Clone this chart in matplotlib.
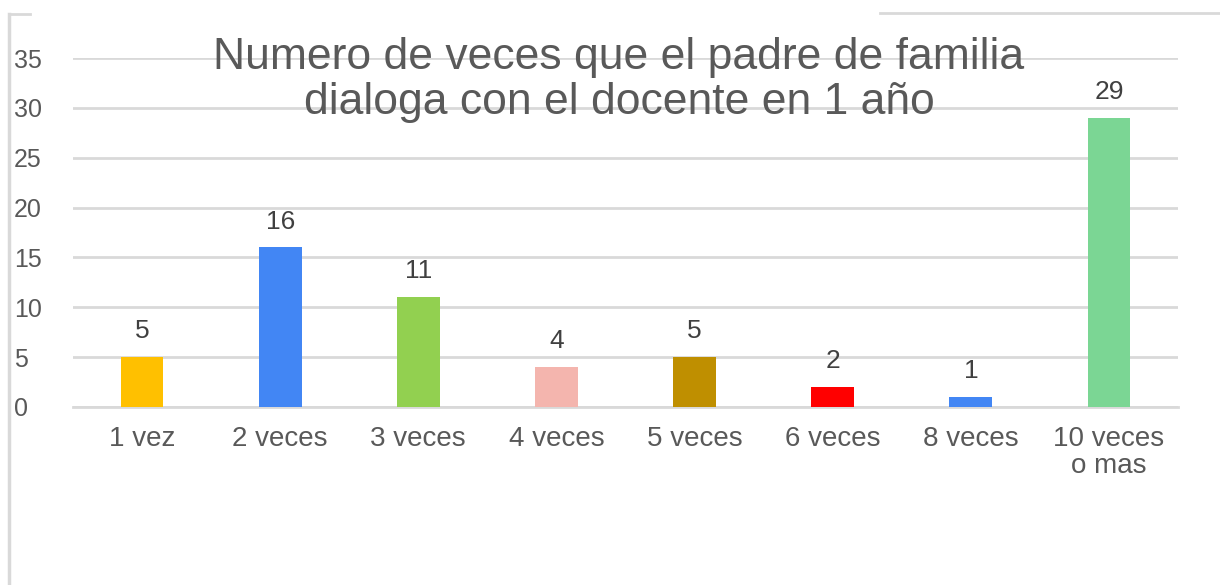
import matplotlib
matplotlib.use("Agg")
import matplotlib.pyplot as plt
from matplotlib.lines import Line2D

categories = ["1 vez", "2 veces", "3 veces", "4 veces", "5 veces", "6 veces", "8 veces", "10 veces\no mas"]
values = [5, 16, 11, 4, 5, 2, 1, 29]
colors = ["#FFC000", "#4286F4", "#92D050", "#F4B5AE", "#BF8F00", "#FF0000", "#4286F4", "#7BD694"]
yticks = [0, 5, 10, 15, 20, 25, 30, 35]
title = "Numero de veces que el padre de familia\ndialoga con el docente en 1 año"

plt.rcParams['font.family'] = ['Liberation Sans', 'DejaVu Sans']
txt = "#595959"
grid = "#D9D9D9"

fig = plt.figure(figsize=(12.2, 5.85), dpi=100)
ax = fig.add_axes([73/1220, 1-407/585, (1178-73)/1220, (407-58)/585])

x = list(range(len(categories)))
ax.bar(x, values, width=0.31, color=colors, zorder=3)
for xi, v in zip(x, values):
    ax.annotate(str(v), (xi, v), xytext=(0, 10), textcoords="offset points",
                ha="center", va="bottom", fontsize=19, color="#404040", zorder=4)

ax.set_xlim(-0.5, len(categories) - 0.5)
ax.set_ylim(0, 35)
ax.set_yticks(yticks)
ax.set_yticklabels([str(t) for t in yticks])
ax.set_xticks(x)
ax.set_xticklabels(categories, linespacing=1.05)
ax.tick_params(axis="y", length=0, pad=42.5, labelsize=18, labelcolor=txt)
ax.tick_params(axis="x", length=0, pad=14, labelsize=20, labelcolor=txt)
for lab in ax.get_yticklabels():
    lab.set_horizontalalignment("left")
ax.grid(axis="y", color=grid, linewidth=2, zorder=0)
for s in ["top", "right", "left"]:
    ax.spines[s].set_visible(False)
ax.spines["bottom"].set_color(grid)
ax.spines["bottom"].set_linewidth(2)

fig.text(619/1220, 1-80/585, title, ha="center", va="center", fontsize=32,
         color=txt, linespacing=1.1, zorder=5)

# frame remnants
fig.add_artist(Line2D([9/1220, 9/1220], [0, 1-14/585], transform=fig.transFigure, color=grid, linewidth=2.5))
fig.add_artist(Line2D([9/1220, 30/1220], [1-14/585, 1-14/585], transform=fig.transFigure, color=grid, linewidth=2))
fig.add_artist(Line2D([880/1220, 1], [1-13/585, 1-13/585], transform=fig.transFigure, color=grid, linewidth=2))

fig.savefig("out.png", dpi=100, facecolor="white")
